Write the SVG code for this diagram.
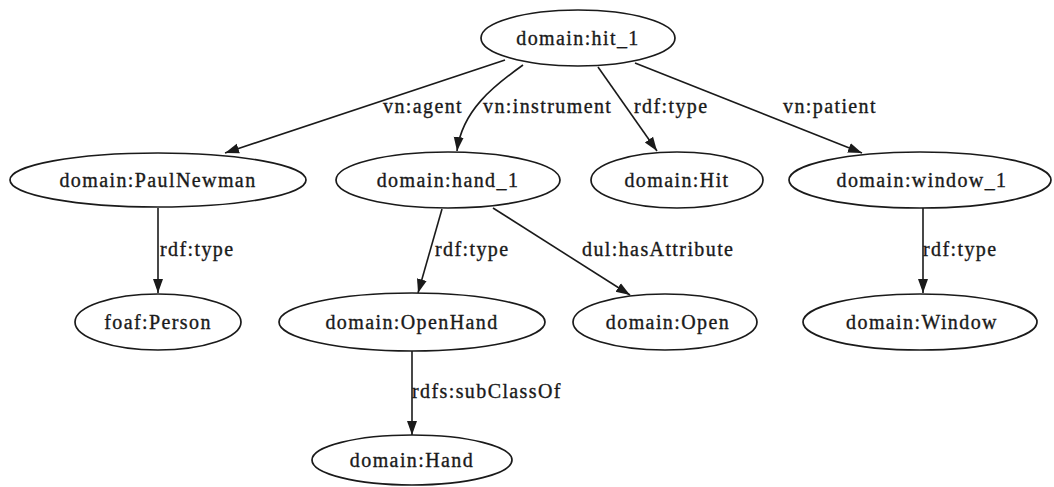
<svg xmlns="http://www.w3.org/2000/svg" width="1054" height="487" viewBox="0 0 1054 487">
  <style>
    .node ellipse { fill: #ffffff; stroke: #1a1a1a; stroke-width: 1.7; }
    .node text { font-family: "Liberation Serif", "Times New Roman", serif; font-size: 20px; letter-spacing: 1.4px; fill: #1a1a1a; stroke: #1a1a1a; stroke-width: 0.35; text-anchor: middle; }
    .edge path { fill: none; stroke: #1a1a1a; stroke-width: 1.6; marker-end: url(#arrow); }
    .edge text { font-family: "Liberation Serif", "Times New Roman", serif; font-size: 20px; letter-spacing: 1.4px; fill: #1a1a1a; stroke: #1a1a1a; stroke-width: 0.35; }
  </style>
  <defs>
    <marker id="arrow" markerUnits="userSpaceOnUse" markerWidth="15" markerHeight="12" refX="14" refY="6" orient="auto">
      <polygon points="0,1 14,6 0,11" fill="#1a1a1a"/>
    </marker>
  </defs>
  <rect width="1054" height="487" fill="#ffffff"/>

  <g id="edges">
    <g class="edge" id="e-agent">
      <path d="M505,60 L225,153"/>
      <text x="383" y="113">vn:agent</text>
    </g>
    <g class="edge" id="e-instrument">
      <path d="M523,65 C495,85 462,110 457,151"/>
      <text x="483" y="113">vn:instrument</text>
    </g>
    <g class="edge" id="e-hit-type">
      <path d="M598,67 L657,151"/>
      <text x="634" y="113">rdf:type</text>
    </g>
    <g class="edge" id="e-patient">
      <path d="M635,63 L862,153"/>
      <text x="783" y="113">vn:patient</text>
    </g>
    <g class="edge" id="e-person-type">
      <path d="M158,208 L158,293"/>
      <text x="160" y="256">rdf:type</text>
    </g>
    <g class="edge" id="e-openhand-type">
      <path d="M442,209 L418,293"/>
      <text x="435" y="256">rdf:type</text>
    </g>
    <g class="edge" id="e-attribute">
      <path d="M493,208 L630,295"/>
      <text x="582" y="256">dul:hasAttribute</text>
    </g>
    <g class="edge" id="e-window-type">
      <path d="M923,208 L923,293"/>
      <text x="923" y="256">rdf:type</text>
    </g>
    <g class="edge" id="e-subclass">
      <path d="M412,351 L412,435"/>
      <text x="412" y="398">rdfs:subClassOf</text>
    </g>
  </g>

  <g class="node" id="n-hit_1">
    <ellipse cx="578" cy="38" rx="97" ry="28"/>
    <text x="578" y="45">domain:hit_1</text>
  </g>
  <g class="node" id="n-PaulNewman">
    <ellipse cx="158" cy="180" rx="148" ry="27"/>
    <text x="158" y="187">domain:PaulNewman</text>
  </g>
  <g class="node" id="n-hand_1">
    <ellipse cx="448" cy="180" rx="112" ry="28"/>
    <text x="448" y="187">domain:hand_1</text>
  </g>
  <g class="node" id="n-Hit">
    <ellipse cx="677" cy="180" rx="86" ry="28"/>
    <text x="677" y="187">domain:Hit</text>
  </g>
  <g class="node" id="n-window_1">
    <ellipse cx="920" cy="180" rx="131" ry="28"/>
    <text x="922" y="187">domain:window_1</text>
  </g>
  <g class="node" id="n-Person">
    <ellipse cx="158" cy="322" rx="83" ry="28"/>
    <text x="158" y="329">foaf:Person</text>
  </g>
  <g class="node" id="n-OpenHand">
    <ellipse cx="412" cy="322" rx="133" ry="29"/>
    <text x="412" y="329">domain:OpenHand</text>
  </g>
  <g class="node" id="n-Open">
    <ellipse cx="665" cy="322" rx="92" ry="28"/>
    <text x="668" y="329">domain:Open</text>
  </g>
  <g class="node" id="n-Window">
    <ellipse cx="920" cy="322" rx="117" ry="28"/>
    <text x="922" y="329">domain:Window</text>
  </g>
  <g class="node" id="n-Hand">
    <ellipse cx="412" cy="460" rx="100" ry="25"/>
    <text x="412" y="467">domain:Hand</text>
  </g>
</svg>
